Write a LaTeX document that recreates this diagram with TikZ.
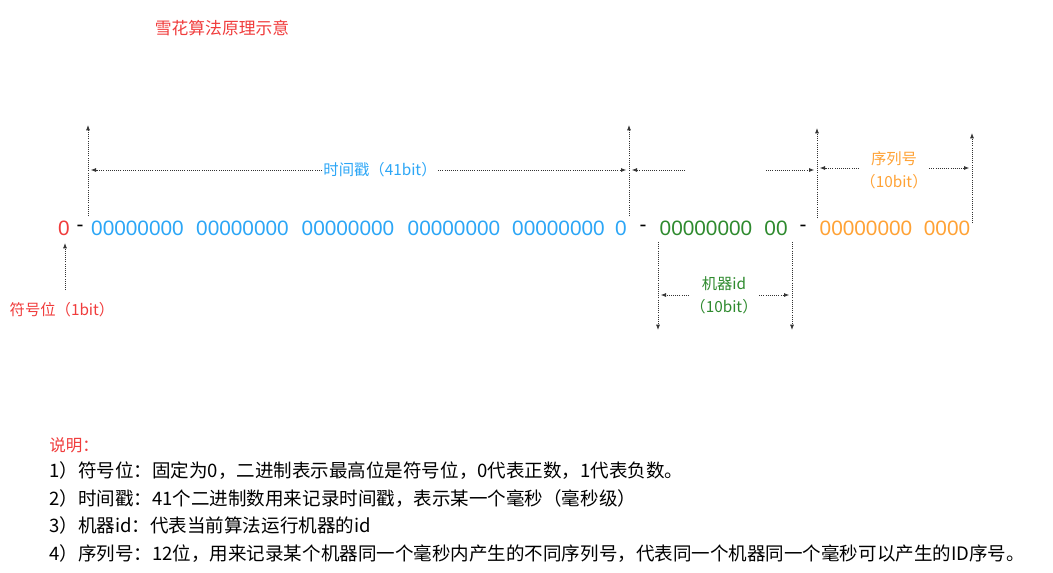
\documentclass[tikz,border=0pt]{standalone}
\usepackage{fontspec}
\setmainfont{Liberation Sans}
\newfontfamily\cjk{Noto Sans CJK SC}
\usetikzlibrary{arrows.meta,positioning,calc}
\definecolor{snowred}{HTML}{F03C3C}
\definecolor{snowblue}{HTML}{2CA6F6}
\definecolor{snowgreen}{HTML}{2E8A2E}
\definecolor{snoworange}{HTML}{FFA235}
\definecolor{guidegray}{HTML}{333333}

\begin{document}
\begin{tikzpicture}[x=0.75pt,y=-0.75pt,
    bits/.style={font=\fontsize{15.6}{16}\selectfont,inner sep=0pt},
    lbl/.style={font=\cjk\fontsize{11.5}{17}\selectfont,inner sep=1pt,align=center},
    guide/.style={densely dotted,line width=0.6pt,draw=guidegray,-{Latex[length=4pt,width=3pt]}},
    note/.style={font=\cjk\fontsize{13.9}{16}\selectfont,anchor=base west,inner sep=0pt}
]
\useasboundingbox (0,0) rectangle (1053,572);

% title
\node[font=\cjk\fontsize{12.6}{14}\selectfont,text=snowred] (title) at (222,28) {雪花算法原理示意};

% the 64 bits
\node[bits,text=snowred] (sign) at (64,228) {0};
\node[bits] (dash1) at (80,228) {-};
\node[bits,text=snowblue] (ts1) at (137.5,228) {00000000};
\node[bits,text=snowblue] (ts2) at (242.5,228) {00000000};
\node[bits,text=snowblue] (ts3) at (348,228) {00000000};
\node[bits,text=snowblue] (ts4) at (454,228) {00000000};
\node[bits,text=snowblue] (ts5) at (558.5,228) {00000000};
\node[bits,text=snowblue] (ts6) at (621,228) {0};
\node[bits] (dash2) at (643,228) {-};
\node[bits,text=snowgreen] (mid1) at (706,228) {00000000};
\node[bits,text=snowgreen] (mid2) at (776,228) {00};
\node[bits] (dash3) at (803,228) {-};
\node[bits,text=snoworange] (seq1) at (866,228) {00000000};
\node[bits,text=snoworange] (seq2) at (947,228) {0000};

% labels
\node[lbl,text=snowred] (signlbl) at (62,310) {符号位（1bit）};
\node[lbl,text=snowblue] (tslbl) at (380,170) {时间戳（41bit）};
\node[lbl,text=snowgreen] (midlbl) at (724,295) {机器id\\（10bit）};
\node[lbl,text=snoworange] (seqlbl) at (894,170) {序列号\\（10bit）};

% guide lines
\coordinate (tsAb) at (88,216);   \coordinate (tsAt) at (88,125);
\coordinate (tsBb) at (629,216);  \coordinate (tsBt) at (629,125);
\coordinate (seqAb) at (817,218); \coordinate (seqAt) at (817,128);
\coordinate (seqBb) at (972,223); \coordinate (seqBt) at (972,133);
\coordinate (midAt) at (658,242); \coordinate (midAb) at (658,330);
\coordinate (midBt) at (792,242); \coordinate (midBb) at (792,330);
\coordinate (signb) at (65,290);  \coordinate (signt) at (65,243);
\coordinate (gapl) at (685,170);  \coordinate (gapr) at (766,170);

\draw[guide] (tsAb) -- (tsAt);
\draw[guide] (tsBb) -- (tsBt);
\draw[guide] (seqAb) -- (seqAt);
\draw[guide] (seqBb) -- (seqBt);
\draw[guide] (midAt) -- (midAb);
\draw[guide] (midBt) -- (midBb);
\draw[guide] (signb) -- (signt);

\draw[guide,shorten >=2pt] (tslbl.west) -- (tslbl.west -| tsAt);
\draw[guide,shorten >=2pt] (tslbl.east) -- (tslbl.east -| tsBt);
\draw[guide,shorten >=2pt] (gapl) -- (gapl -| tsBt);
\draw[guide,shorten >=2pt] (gapr) -- (gapr -| seqAt);
\draw[guide,shorten >=2pt] ($(seqlbl.west)+(0,-2)$) -- ($(seqlbl.west -| seqAt)+(0,-2)$);
\draw[guide,shorten >=2pt] ($(seqlbl.east)+(0,-2)$) -- ($(seqlbl.east -| seqBt)+(0,-2)$);
\draw[guide,shorten >=2pt] (midlbl.west) -- (midlbl.west -| midAt);
\draw[guide,shorten >=2pt] (midlbl.east) -- (midlbl.east -| midBt);

% notes
\node[note,text=snowred,font=\cjk\fontsize{12.4}{14}\selectfont] (notehead) at (49,451) {说明：};
\node[note] (note1) at (49,477) {1）符号位：固定为0，二进制表示最高位是符号位，0代表正数，1代表负数。};
\node[note] (note2) at (49,505) {2）时间戳：41个二进制数用来记录时间戳，表示某一个毫秒（毫秒级）};
\node[note] (note3) at (49,532) {3）机器id：代表当前算法运行机器的id};
\node[note] (note4) at (49,560) {4）序列号：12位，用来记录某个机器同一个毫秒内产生的不同序列号，代表同一个机器同一个毫秒可以产生的ID序号。};
\end{tikzpicture}
\end{document}
